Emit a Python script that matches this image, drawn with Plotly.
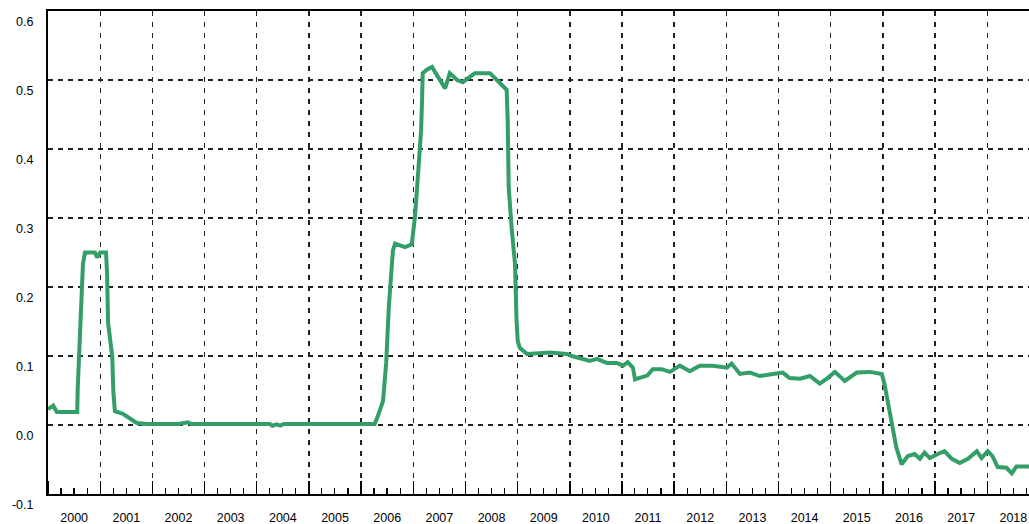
import plotly.graph_objects as go
from datetime import datetime, timedelta

# decimal-year positions and values
years = [
    2000.00, 2000.10, 2000.17, 2000.56, 2000.57, 2000.61, 2000.63, 2000.65, 2000.67, 2000.71,
    2000.90, 2000.94, 2001.00, 2001.11, 2001.13, 2001.15, 2001.23, 2001.25, 2001.28, 2001.44,
    2001.57, 2001.70, 2001.90, 2002.50, 2002.68, 2002.75, 2004.25, 2004.30, 2004.38, 2004.45,
    2004.52, 2006.26, 2006.32, 2006.42, 2006.48, 2006.53, 2006.59, 2006.61, 2006.65, 2006.84,
    2006.97, 2006.99, 2007.03, 2007.07, 2007.11, 2007.15, 2007.17, 2007.18, 2007.26, 2007.36,
    2007.43, 2007.53, 2007.61, 2007.70, 2007.84, 2007.95, 2008.08, 2008.18, 2008.47, 2008.66,
    2008.79, 2008.81, 2008.83, 2008.89, 2008.95, 2008.98, 2009.00, 2009.04, 2009.18, 2009.62,
    2009.81, 2009.94, 2010.04, 2010.19, 2010.38, 2010.52, 2010.71, 2010.90, 2011.02, 2011.11,
    2011.21, 2011.25, 2011.34, 2011.49, 2011.59, 2011.76, 2011.92, 2012.11, 2012.30, 2012.49,
    2012.74, 2013.01, 2013.10, 2013.26, 2013.45, 2013.64, 2013.89, 2014.08, 2014.21, 2014.41,
    2014.60, 2014.79, 2014.94, 2015.08, 2015.27, 2015.50, 2015.75, 2015.98, 2016.03, 2016.09,
    2016.13, 2016.19, 2016.26, 2016.36, 2016.48, 2016.61, 2016.71, 2016.80, 2016.90, 2017.05,
    2017.18, 2017.32, 2017.47, 2017.63, 2017.80, 2017.89, 2018.01, 2018.10, 2018.20, 2018.37,
    2018.47, 2018.56, 2018.79, 2018.85,
]
values = [
    0.023, 0.028, 0.019, 0.019, 0.054, 0.126, 0.170, 0.205, 0.234, 0.250,
    0.250, 0.243, 0.250, 0.250, 0.220, 0.148, 0.099, 0.049, 0.020, 0.016,
    0.010, 0.003, 0.0015, 0.0015, 0.004, 0.0015, 0.0015, -0.001, 0.001, -0.001,
    0.0015, 0.0015, 0.013, 0.035, 0.090, 0.170, 0.234, 0.253, 0.263, 0.258,
    0.262, 0.272, 0.300, 0.340, 0.388, 0.427, 0.475, 0.510, 0.515, 0.519,
    0.510, 0.497, 0.488, 0.510, 0.500, 0.497, 0.505, 0.510, 0.510, 0.496,
    0.486, 0.442, 0.344, 0.282, 0.234, 0.152, 0.122, 0.112, 0.103, 0.105,
    0.104, 0.103, 0.100, 0.097, 0.093, 0.096, 0.090, 0.090, 0.086, 0.091,
    0.083, 0.066, 0.068, 0.072, 0.081, 0.081, 0.077, 0.086, 0.078, 0.086,
    0.086, 0.083, 0.089, 0.074, 0.076, 0.071, 0.074, 0.076, 0.068, 0.067,
    0.071, 0.060, 0.068, 0.077, 0.064, 0.076, 0.077, 0.074, 0.060, 0.035,
    0.025, -0.004, -0.033, -0.057, -0.045, -0.042, -0.049, -0.040, -0.048, -0.042,
    -0.038, -0.049, -0.055, -0.049, -0.038, -0.048, -0.038, -0.045, -0.061, -0.062,
    -0.070, -0.060, -0.060, -0.060,
]

y_ticks = [-0.1, 0.0, 0.1, 0.2, 0.3, 0.4, 0.5, 0.6]
y_labels = ["-0.1", "0.0", "0.1", "0.2", "0.3", "0.4", "0.5", "0.6"]


def to_date(y):
    base = int(y)
    return datetime(base, 1, 1) + timedelta(days=(y - base) * 365.25)


dates = [to_date(y) for y in years]

fig = go.Figure()
fig.add_trace(go.Scatter(
    x=dates, y=values, mode="lines",
    line=dict(color="rgb(52,158,104)", width=4),
    hoverinfo="skip", showlegend=False,
))

fig.update_layout(
    width=1029, height=524,
    margin=dict(l=48, r=0, t=11, b=30),
    paper_bgcolor="white", plot_bgcolor="white",
    font=dict(family="Liberation Sans, Arial, sans-serif", size=12.5, color="black"),
)

fig.update_xaxes(
    type="date", automargin=False,
    range=[datetime(2000, 1, 1), to_date(2018.80)],
    tick0="2000-01-01", dtick="M12",
    tickformat="%Y", ticklabelmode="period",
    ticks="inside", ticklen=13, tickwidth=1.5, tickcolor="black",
    minor=dict(dtick="M3", ticks="inside", ticklen=6, tickwidth=1.2,
               tickcolor="black", showgrid=False),
    showgrid=True, gridcolor="#222", gridwidth=1.5, griddash="5px,6px",
    showline=True, linecolor="black", linewidth=2, mirror=True,
    zeroline=False, ticklabelstandoff=11,
)

fig.update_yaxes(
    automargin=False,
    range=[-0.1, 0.6001],
    tickvals=y_ticks, ticktext=y_labels,
    ticks="", ticklabelshift=11, ticklabelstandoff=10,
    ticklabeloverflow="allow",
    showgrid=True, gridcolor="#222", gridwidth=1.5, griddash="5px,5px",
    showline=True, linecolor="black", linewidth=2, mirror=False,
    zeroline=False,
)

fig.write_html(
    "out.html",
    config={"displayModeBar": False, "staticPlot": True},
    post_script="document.body.style.margin='0';document.body.style.overflow='hidden';",
)
